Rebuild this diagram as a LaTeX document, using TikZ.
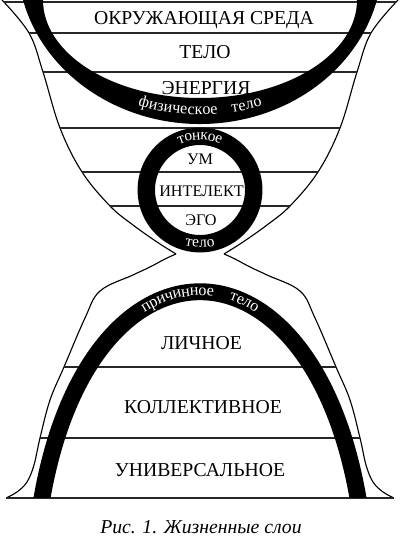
\documentclass[tikz,border=0pt]{standalone}
\usepackage{fontspec}
\setmainfont{Liberation Serif}
\usetikzlibrary{decorations.text}
\tikzset{
  outline/.style={line width=0.8pt},
  layerline/.style={line width=0.9pt, black!85},
  band/.style={line width=12pt, black},
  layerlabel/.style={anchor=base, font=\fontsize{14}{16}\selectfont},
  innerlabel/.style={anchor=base, font=\fontsize{11.5}{13}\selectfont},
  ringtext/.style={decorate, decoration={text along path, text align=center, raise=-2.6pt, text format delimiters={|}{|}}},
}
\newcommand{\ringfont}{\color{white}\fontsize{11.5}{13}\selectfont}
\newcommand{\ringfontsmall}{\color{white}\fontsize{11}{13}\selectfont}

\begin{document}
\begin{tikzpicture}[x=0.025cm, y=0.025cm]
  \useasboundingbox (0,0) rectangle (400,536);
  % outline
  \foreach \s in {1,-1} {
    \begin{scope}[shift={(200,0)}, xscale=\s]
      \draw[outline] plot[smooth, tension=0.6] coordinates {(-198,536) (-171,503) (-157,464) (-140,408) (-118,364) (-90,330) (-67,311) (-43,294) (-24,282)};
      \draw[outline] plot[smooth, tension=0.6] coordinates {(-24,282) (-35,277) (-50,269) (-67,261) (-100,245) (-115,218) (-136,169) (-150,136) (-160,98) (-166,71) (-173,54) (-183,44) (-194,38)};
    \end{scope}
  }
  % layer lines
  \draw[layerline] (4,534) -- (396,534);
  \draw[layerline] (29,503) -- (371,503);
  \draw[layerline] (43,464) -- (357,464);
  \draw[layerline] (60,408) -- (340,408);
  \draw[layerline] (82,364) -- (318,364);
  \draw[layerline] (110,330) -- (290,330);
  \draw[layerline] (64,169) -- (336,169);
  \draw[layerline] (40,98) -- (360,98);
  \draw[layerline] (6,38) -- (394,38);
  % bodies
  \fill (23,536) arc[start angle=194.12, end angle=345.88, x radius=182.5, y radius=164]
    -- (357,536) arc[start angle=360, end angle=180, x radius=157, y radius=98] -- cycle;
  \draw[band, line width=12.4pt] (200,346) circle[radius=53.75];
  \begin{scope}
    \clip (0,38) rectangle (400,536);
    \draw[band] (39.7,25) -- (42,38) .. controls (90,313) and (310,313) .. (358,38) -- (360.3,25);
  \end{scope}
  % body labels
  \path[ringtext, decoration={text={|\ringfont|физическое{\hspace{10pt}}тело}}]
    (30,556) arc[start angle=180, end angle=360, x radius=170, y radius=131];
  \path[ringtext, decoration={text={|\ringfontsmall|тонкое}}]
    (146.25,346) arc[start angle=180, end angle=0, radius=53.75];
  \path[ringtext, decoration={text={|\ringfontsmall|тело}}]
    (146.25,346) arc[start angle=180, end angle=360, radius=53.75];
  \path[ringtext, decoration={text={|\ringfont|причинное{\hspace{12pt}}тело}}]
    (42,38) .. controls (90,313) and (310,313) .. (358,38);
  % layer labels
  \node[layerlabel] (env) at (204,511) {ОКРУЖАЮЩАЯ СРЕДА};
  \node[layerlabel] (body) at (205,477) {ТЕЛО};
  \node[layerlabel] (energy) at (206,441) {ЭНЕРГИЯ};
  \node[innerlabel] (mind) at (200,371) {УМ};
  \node[innerlabel] (intellect) at (201.5,339) {ИНТЕЛЕКТ};
  \node[innerlabel] (ego) at (201,310) {ЭГО};
  \node[layerlabel] (personal) at (201.5,186) {ЛИЧНОЕ};
  \node[layerlabel] (collective) at (203,122) {КОЛЛЕКТИВНОЕ};
  \node[layerlabel] (universal) at (200,59) {УНИВЕРСАЛЬНОЕ};
  \node[layerlabel, font=\itshape\fontsize{14}{16}\selectfont] (caption) at (201,3) {Рис. 1. Жизненные слои};
\end{tikzpicture}
\end{document}
